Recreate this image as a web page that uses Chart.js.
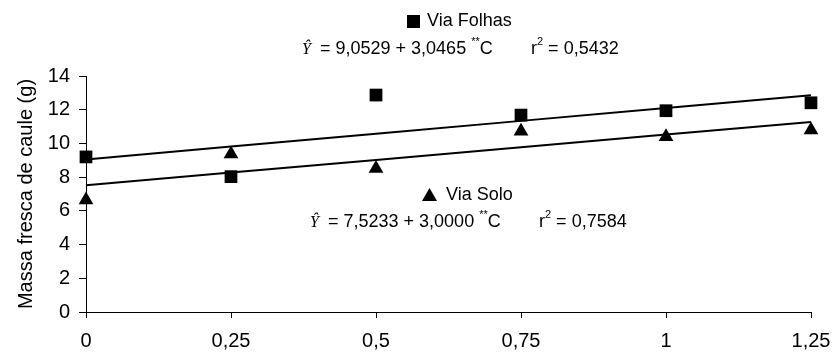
<!DOCTYPE html>
<html>
<head>
<meta charset="utf-8">
<script src="https://cdn.jsdelivr.net/npm/chart.js@4.4.0/dist/chart.umd.min.js"></script>
<style>
  html, body { margin: 0; padding: 0; background: #fff; }
  #grafico { display: block; }
</style>
</head>
<body>
<canvas id="grafico" width="834" height="354"></canvas>
<script>
// Doses (categorias do eixo X)
const doses = ['0', '0,25', '0,5', '0,75', '1', '1,25'];

// Massa fresca de caule observada (g)
const viaFolhas = [9.2, 8.03, 12.87, 11.68, 11.94, 12.41];
const viaSolo = [6.64, 9.37, 8.52, 10.72, 10.40, 10.80];

// Valores estimados pelas equações de regressão
const estFolhas = [9.0529, 9.8145, 10.5762, 11.3378, 12.0994, 12.8610];
const estSolo = [7.5233, 8.2733, 9.0233, 9.7733, 10.5233, 11.2733];

const yTicks = [0, 2, 4, 6, 8, 10, 12, 14];

const FONTE = "'Liberation Sans', Arial, sans-serif";
const SERIFA = "'Liberation Serif', 'Times New Roman', serif";

// desenha uma sequência de trechos de texto (com sobrescritos) a partir de x
function escreve(ctx, x, y, trechos) {
  ctx.textBaseline = 'middle';
  ctx.textAlign = 'left';
  trechos.forEach(t => {
    if (t.x !== undefined) x = t.x;
    ctx.font = t.font;
    ctx.fillText(t.txt, x, y + (t.dy || 0));
    x += ctx.measureText(t.txt).width;
  });
}

function equacao(ctx, y, xy, xig, a, b, xr, r2) {
  escreve(ctx, 0, y, [
    { txt: '\u0176', x: xy, font: 'italic 16px ' + SERIFA, dy: 1 },
    { txt: '= ' + a + ' + ' + b + ' ', x: xig, font: '18px ' + FONTE },
    { txt: '**', font: '11px ' + FONTE, dy: -7 },
    { txt: 'C', font: '18px ' + FONTE },
    { txt: 'r', x: xr, font: '18px ' + FONTE },
    { txt: '2', font: '11px ' + FONTE, dy: -7 },
    { txt: ' = ' + r2, font: '18px ' + FONTE }
  ]);
}

const anotacoes = {
  id: 'anotacoes',
  afterDraw(chart) {
    const ctx = chart.ctx;
    ctx.save();
    ctx.fillStyle = '#000';

    // Via Folhas
    ctx.fillRect(407, 15, 13, 13);
    escreve(ctx, 427, 21, [{ txt: 'Via Folhas', font: '18px ' + FONTE }]);
    equacao(ctx, 49, 302, 320, '9,0529', '3,0465', 531, '0,5432');

    // Via Solo
    ctx.beginPath();
    ctx.moveTo(429.5, 188);
    ctx.lineTo(437, 201);
    ctx.lineTo(422, 201);
    ctx.closePath();
    ctx.fill();
    escreve(ctx, 446, 195, [{ txt: 'Via Solo', font: '18px ' + FONTE }]);
    equacao(ctx, 222, 310, 328, '7,5233', '3,0000', 539, '0,7584');

    ctx.restore();
  }
};

new Chart(document.getElementById('grafico').getContext('2d'), {
  type: 'line',
  data: {
    labels: doses,
    datasets: [
      { label: 'Via Folhas', data: viaFolhas, showLine: false, pointStyle: 'rect', pointRadius: 9,
        backgroundColor: '#000', borderColor: '#000', borderWidth: 0, order: 0 },
      { label: 'Via Solo', data: viaSolo, showLine: false, pointStyle: 'triangle', pointRadius: 8.5,
        backgroundColor: '#000', borderColor: '#000', borderWidth: 0, order: 0 },
      { label: 'Est. Folhas', data: estFolhas, pointRadius: 0, borderColor: '#000', borderWidth: 2,
        tension: 0, fill: false, order: 1 },
      { label: 'Est. Solo', data: estSolo, pointRadius: 0, borderColor: '#000', borderWidth: 2,
        tension: 0, fill: false, order: 1 }
    ]
  },
  options: {
    responsive: false,
    animation: false,
    devicePixelRatio: 1,
    layout: { padding: { top: 76, right: 23, left: 0, bottom: 0 } },
    plugins: {
      legend: { display: false },
      tooltip: { enabled: false }
    },
    scales: {
      x: {
        type: 'category',
        offset: false,
        grid: { drawOnChartArea: false, tickLength: 6, color: '#000' },
        border: { color: '#000', width: 1 },
        ticks: { color: '#000', font: { family: FONTE, size: 20 }, padding: 11, maxRotation: 0, autoSkip: false },
        afterFit(scale) {
          scale.height = 42;
          scale.paddingLeft = 0;
          scale.paddingRight = 0;
        }
      },
      y: {
        min: 0,
        max: 14,
        grid: { drawOnChartArea: false, tickLength: 7, color: '#000' },
        border: { color: '#000', width: 1 },
        afterBuildTicks(scale) { scale.ticks = yTicks.map(v => ({ value: v })); },
        ticks: { color: '#000', font: { family: FONTE, size: 20 }, padding: 9 },
        title: {
          display: true,
          text: 'Massa fresca de caule (g)',
          color: '#000',
          font: { family: FONTE, size: 20 },
          padding: { top: 14, bottom: 0 }
        },
        afterFit(scale) {
          scale.width = 86;
          scale.paddingTop = 0;
          scale.paddingBottom = 0;
        }
      }
    }
  },
  plugins: [anotacoes]
});
</script>
</body>
</html>
